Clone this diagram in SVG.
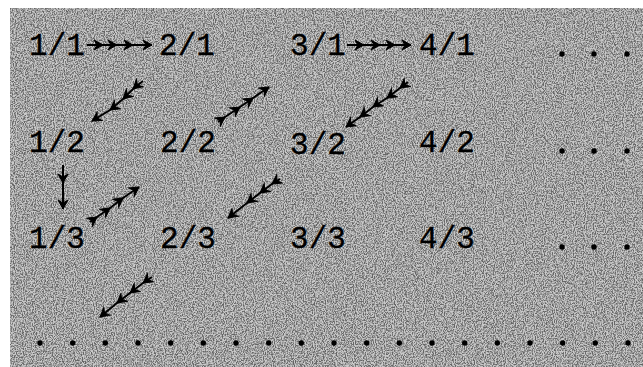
<svg xmlns="http://www.w3.org/2000/svg" width="643" height="367" viewBox="0 0 643 367">
<style>
.t{font-family:"Liberation Mono","DejaVu Sans Mono",monospace;font-size:31px;fill:#000;stroke:#000;stroke-width:0.3;text-anchor:middle}
.a{fill:none;stroke:#000;stroke-width:2;marker-mid:url(#h);marker-end:url(#h)}
.d{fill:#000}
</style>
<defs>
<marker id="h" viewBox="-10 -6 11 12" refX="0" refY="0" markerWidth="11" markerHeight="12" markerUnits="userSpaceOnUse" orient="auto">
<path d="M0,0 L-9,-5 L-6,0 L-9,5 Z" fill="#000" stroke="#000" stroke-width="1"/>
</marker>
<filter id="noise" x="0" y="0" width="100%" height="100%">
<feTurbulence type="fractalNoise" baseFrequency="0.9 0.7" numOctaves="2" seed="4"/>
<feColorMatrix type="matrix" values="0 0 0 0 0  0 0 0 0 0  0 0 0 0 0  3.2 0 0 0 -1.2"/>
</filter>
</defs>
<rect x="0" y="0" width="643" height="367" fill="#fff"/>
<rect x="10" y="8" width="633" height="359" fill="#cacaca"/>
<rect x="10" y="8" width="633" height="359" fill="#000" filter="url(#noise)" opacity="0.5"/>
<g id="connectors">
<polyline class="a" points="87,45 103,45 117,45 133,45 152,45"/>
<polyline class="a" points="143,81 133,89 123,99 110,110 92,121"/>
<polyline class="a" points="63,165 63,183 63,209"/>
<polyline class="a" points="90,222 97,217 110,208 123,198 139,187"/>
<polyline class="a" points="218,122 225,117 240,107 253,98 269,87"/>
<polyline class="a" points="347,45 364,45 380,45 395,45 411,45"/>
<polyline class="a" points="408,82 400,88 387,98 373,107 360,117 346,127"/>
<polyline class="a" points="280,179 272,184 260,193 247,203 228,218"/>
<polyline class="a" points="152,277 143,283 130,293 117,303 100,317"/>
</g>
<g id="n11"><text class="t" x="57" y="55">1/1</text></g>
<g id="n21"><text class="t" x="187" y="55">2/1</text></g>
<g id="n31"><text class="t" x="318" y="55">3/1</text></g>
<g id="n41"><text class="t" x="447" y="55">4/1</text></g>
<g id="n12"><text class="t" x="57" y="152">1/2</text></g>
<g id="n22"><text class="t" x="188" y="152">2/2</text></g>
<g id="n32"><text class="t" x="318" y="154">3/2</text></g>
<g id="n42"><text class="t" x="447" y="152">4/2</text></g>
<g id="n13"><text class="t" x="57" y="248">1/3</text></g>
<g id="n23"><text class="t" x="188" y="248">2/3</text></g>
<g id="n33"><text class="t" x="318" y="248">3/3</text></g>
<g id="n43"><text class="t" x="447" y="248">4/3</text></g>
<g id="dots-r1" class="d"><circle cx="562" cy="54" r="2.7"/><circle cx="594" cy="54" r="2.7"/><circle cx="627" cy="54" r="2.7"/></g>
<g id="dots-r2" class="d"><circle cx="562" cy="151" r="2.7"/><circle cx="594" cy="151" r="2.7"/><circle cx="627" cy="151" r="2.7"/></g>
<g id="dots-r3" class="d"><circle cx="562" cy="247" r="2.7"/><circle cx="594" cy="247" r="2.7"/><circle cx="627" cy="247" r="2.7"/></g>
<g id="dots-bottom" class="d">
<circle cx="40" cy="343" r="2.7"/><circle cx="72.7" cy="343" r="2.7"/><circle cx="105.3" cy="343" r="2.7"/><circle cx="138" cy="343" r="2.7"/><circle cx="170.7" cy="343" r="2.7"/><circle cx="203.3" cy="343" r="2.7"/><circle cx="236" cy="343" r="2.7"/><circle cx="268.7" cy="343" r="2.7"/><circle cx="301.3" cy="343" r="2.7"/><circle cx="334" cy="343" r="2.7"/><circle cx="366.7" cy="343" r="2.7"/><circle cx="399.3" cy="343" r="2.7"/><circle cx="432" cy="343" r="2.7"/><circle cx="464.7" cy="343" r="2.7"/><circle cx="497.3" cy="343" r="2.7"/><circle cx="530" cy="343" r="2.7"/><circle cx="562.7" cy="343" r="2.7"/><circle cx="595.3" cy="343" r="2.7"/><circle cx="628" cy="343" r="2.7"/>
</g>
</svg>
